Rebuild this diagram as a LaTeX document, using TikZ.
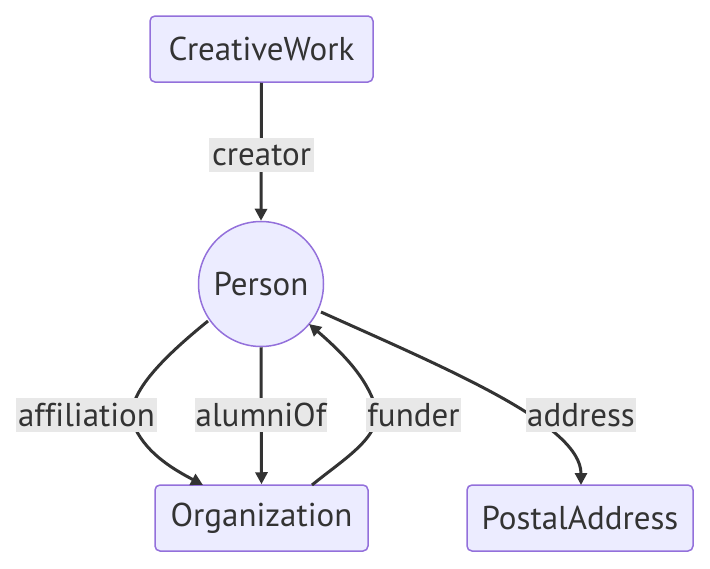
\documentclass[tikz,border=0pt]{standalone}
\usepackage{fontspec}
\setmainfont{PT Sans}[Ligatures=NoCommon]
\usetikzlibrary{arrows.meta}
\definecolor{nodefill}{HTML}{ECECFF}
\definecolor{nodeline}{HTML}{9370DB}
\definecolor{ink}{HTML}{333333}
\definecolor{lblbg}{HTML}{E8E8E8}
\tikzset{
  txt/.style={font=\fontsize{33}{36}\selectfont},
  box/.style={draw=nodeline, fill=nodefill, line width=1.5pt, rounded corners=5pt, text=ink, txt, minimum height=66pt, inner sep=0pt},
  circ/.style={draw=nodeline, fill=nodefill, line width=1.5pt, circle, text=ink, txt, minimum size=125pt, inner sep=0pt},
  lbl/.style={fill=lblbg, text=ink, txt, minimum height=34pt, inner xsep=1pt, inner ysep=0pt},
  edge/.style={draw=ink, line width=3pt, -{Triangle[length=12pt,width=12pt]}},
}
\begin{document}
\begin{tikzpicture}[x=1pt,y=-1pt]
\useasboundingbox (0,0) rectangle (710,568);
\node[box, minimum width=223pt] (cw) at (261.5,49) {CreativeWork};
\node[circ] (p) at (261,284) {Person};
\node[box, minimum width=213pt] (org) at (261.5,518) {Organization};
\node[box, minimum width=226pt] (pa) at (580,518) {PostalAddress};

\coordinate (pa1) at (208,321);
\coordinate (pa2) at (203,485);
\coordinate (pf1) at (312,485);
\coordinate (pf2) at (309,324);
\coordinate (pd1) at (321,312);
\coordinate (pd2) at (581,485);

\draw[edge] (cw.south) -- (p.north);
\draw[edge] (pa1) .. controls (160,360) and (120,400) .. (135,428) .. controls (148,455) and (175,470) .. (pa2);
\draw[edge] (p.south) -- (org.north);
\draw[edge] (pf1) .. controls (345,458) and (385,435) .. (375,405) .. controls (366,378) and (345,355) .. (pf2);
\draw[edge] (pd1) .. controls (450,370) and (581,425) .. (pd2);

\node[lbl, minimum width=105pt] (lc) at (261.5,155) {creator};
\node[lbl, minimum width=141pt] (la) at (86.5,415) {af\kern0pt f\kern0pt iliation};
\node[lbl, minimum width=130pt] (lu) at (261,415) {alumniOf};
\node[lbl, minimum width=93pt] (lf) at (413.5,415) {funder};
\node[lbl, minimum width=108pt] (ld) at (581,415) {address};
\end{tikzpicture}
\end{document}
